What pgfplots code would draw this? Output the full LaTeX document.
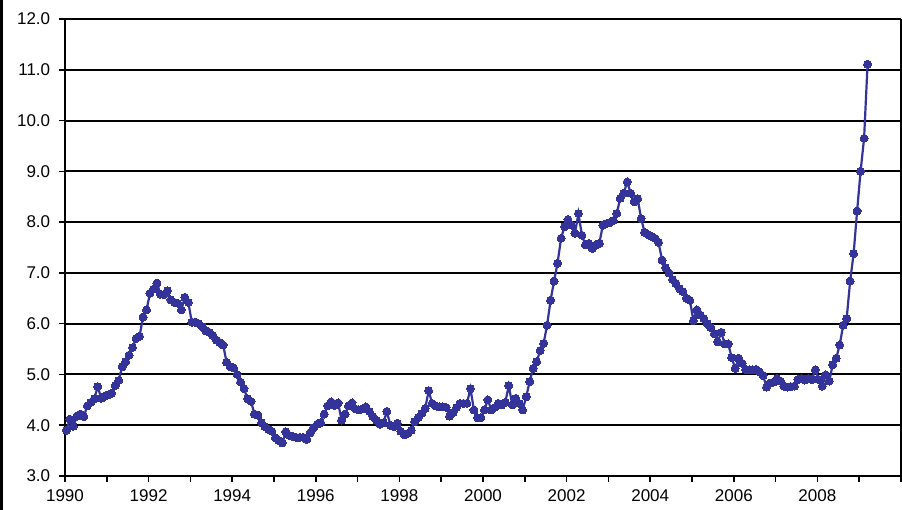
\documentclass[border=0pt]{standalone}
\usepackage{fontspec}
\setmainfont{Liberation Sans}
\usepackage{pgfplots}
\pgfplotsset{compat=1.18}
\definecolor{series}{RGB}{51,51,153}
\begin{document}
\fontsize{17}{20}\selectfont
\begin{tikzpicture}[x=1pt,y=1pt]
\begin{axis}[
  at={(65pt,34pt)}, anchor=south west,
  scale only axis, width=836pt, height=457pt,
  xmin=1990, xmax=2010, ymin=3, ymax=12,
  xtick={1990,1992,...,2008},
  minor xtick={1991,1993,...,2009,2010},
  ytick={3,4,...,12},
  xticklabel style={yshift=-5pt, inner sep=2pt, /pgf/number format/1000 sep={}},
  yticklabel style={xshift=-3pt, /pgf/number format/fixed, /pgf/number format/fixed zerofill, /pgf/number format/precision=1},
  /pgf/number format/assume math mode=true,
  tick align=outside, tick pos=left,
  major tick length=6pt, minor tick length=6pt,
  tick style={black, line width=1.5pt},
  minor tick style={black, line width=1.5pt},
  ymajorgrids, major grid style={black, line width=2pt},
  axis line style={draw=none},
  clip=false,
]
\addplot[color=series, line width=2.2pt, mark=*, mark size=4pt,
  mark options={fill=series, draw=series, line width=0pt}]
  table[x expr={1990+(\thisrow{m}+0.4)/12}, y=v] {
m v
0 3.90
1 4.12
2 3.98
3 4.18
4 4.22
5 4.17
6 4.38
7 4.45
8 4.52
9 4.76
10 4.53
11 4.57
12 4.60
13 4.63
14 4.78
15 4.88
16 5.15
17 5.25
18 5.38
19 5.53
20 5.71
21 5.75
22 6.13
23 6.27
24 6.60
25 6.68
26 6.80
27 6.58
28 6.57
29 6.65
30 6.47
31 6.42
32 6.40
33 6.27
34 6.52
35 6.42
36 6.03
37 6.03
38 6.00
39 5.94
40 5.86
41 5.83
42 5.77
43 5.68
44 5.63
45 5.58
46 5.24
47 5.15
48 5.13
49 5.00
50 4.85
51 4.72
52 4.52
53 4.47
54 4.22
55 4.20
56 4.05
57 3.97
58 3.92
59 3.88
60 3.75
61 3.70
62 3.65
63 3.87
64 3.80
65 3.78
66 3.76
67 3.76
68 3.76
69 3.72
70 3.85
71 3.95
72 4.02
73 4.05
74 4.22
75 4.38
76 4.46
77 4.39
78 4.44
79 4.10
80 4.22
81 4.38
82 4.44
83 4.32
84 4.30
85 4.32
86 4.36
87 4.27
88 4.17
89 4.10
90 4.02
91 4.05
92 4.27
93 4.00
94 3.97
95 4.04
96 3.88
97 3.81
98 3.84
99 3.90
100 4.07
101 4.15
102 4.23
103 4.33
104 4.68
105 4.43
106 4.38
107 4.36
108 4.36
109 4.35
110 4.18
111 4.25
112 4.35
113 4.43
114 4.43
115 4.43
116 4.72
117 4.30
118 4.15
119 4.15
120 4.30
121 4.50
122 4.30
123 4.35
124 4.43
125 4.40
126 4.45
127 4.78
128 4.40
129 4.53
130 4.43
131 4.30
132 4.56
133 4.86
134 5.12
135 5.25
136 5.47
137 5.61
138 5.97
139 6.46
140 6.84
141 7.19
142 7.68
143 7.91
144 8.05
145 7.94
146 7.78
147 8.17
148 7.74
149 7.55
150 7.58
151 7.48
152 7.55
153 7.58
154 7.94
155 7.97
156 7.99
157 8.03
158 8.17
159 8.47
160 8.57
161 8.79
162 8.57
163 8.40
164 8.46
165 8.07
166 7.80
167 7.75
168 7.72
169 7.68
170 7.60
171 7.25
172 7.10
173 7.00
174 6.87
175 6.79
176 6.69
177 6.63
178 6.50
179 6.46
180 6.06
181 6.27
182 6.17
183 6.10
184 6.00
185 5.92
186 5.80
187 5.64
188 5.83
189 5.60
190 5.60
191 5.33
192 5.12
193 5.32
194 5.22
195 5.10
196 5.09
197 5.09
198 5.10
199 5.05
200 4.98
201 4.75
202 4.83
203 4.85
204 4.92
205 4.87
206 4.77
207 4.75
208 4.76
209 4.77
210 4.90
211 4.92
212 4.89
213 4.92
214 4.90
215 5.09
216 4.90
217 4.77
218 4.99
219 4.87
220 5.19
221 5.32
222 5.58
223 5.97
224 6.10
225 6.84
226 7.38
227 8.22
228 9.00
229 9.65
230 11.11
};
\draw[black, line width=2.5pt] (rel axis cs:0,0) -- (rel axis cs:0,1);
\draw[black, line width=2.5pt] (rel axis cs:0,0) -- (rel axis cs:1,0);
\draw[black, line width=1.2pt] (rel axis cs:1,0) -- (rel axis cs:1,1);
\end{axis}
\fill[black] (0,0) rectangle (3,510);
\pgfresetboundingbox
\path (0,0) rectangle (902,510);
\end{tikzpicture}
\end{document}
